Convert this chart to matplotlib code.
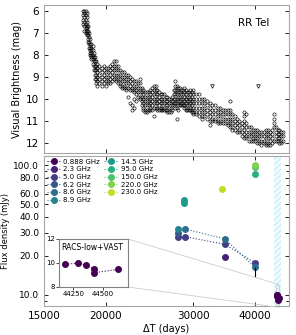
import matplotlib
matplotlib.use('Agg')
import matplotlib.pyplot as plt
import numpy as np
from matplotlib.ticker import FixedLocator, NullLocator, FuncFormatter, LogLocator
from mpl_toolkits.axes_grid1.inset_locator import mark_inset

# visual light curve, read column by column (days, magnitudes)
vis_days = [18000, 18100, 18200, 18300, 18400, 18500, 18600, 18700, 18800, 18900,
            19000, 19100, 19200, 19400, 19600, 19800, 20000, 20200, 20400, 20600,
            20800, 21000, 21200, 21400, 21600, 21800, 22000, 22200, 22400, 22600,
            22800, 23000, 23200, 23400, 23600, 23800, 24000, 24200, 24400, 24600,
            24800, 25000, 25200, 25400, 25600, 25800, 26000, 26200, 26400, 26600,
            26800, 27000, 27200, 27400, 27600, 27800, 28000, 28200, 28400, 28600,
            28800, 29000, 29200, 29400, 29600, 29800, 30000, 30400, 30800, 31200,
            31600, 32000, 32400, 32800, 33200, 33600, 34000, 34400, 34800, 35200,
            35600, 36000, 36400, 36800, 37200, 37600, 38000, 38400, 38800, 39200,
            39600, 40000, 40400, 40800, 41200, 41600, 42000, 42400, 42800, 43200,
            43600, 44000, 44400, 44800, 45200, 45600]
vis_mags = [
    [6.0, 6.2, 6.4, 6.6], [6.0, 6.1, 6.3, 6.5, 6.7, 6.9],
    [6.0, 6.2, 6.4, 6.6, 6.7, 6.8, 6.9, 7.0], [6.1, 6.3, 6.5, 6.7, 6.8, 6.9, 7.0, 7.1],
    [6.7, 6.9, 7.1, 7.3, 7.4], [7.0, 7.2, 7.4, 7.5, 7.7],
    [7.3, 7.5, 7.7, 7.8, 7.9, 8.0], [7.5, 7.7, 7.8, 7.9, 8.0, 8.1, 8.2],
    [7.6, 7.8, 8.0, 8.1, 8.2, 8.4], [7.9, 8.1, 8.3, 8.5, 8.7],
    [8.1, 8.3, 8.5, 8.7, 8.9, 9.1], [8.3, 8.5, 8.7, 8.9, 9.1, 9.3],
    [8.4, 8.6, 8.8, 9.0, 9.2, 9.4], [8.5, 8.7, 8.9, 9.1, 9.3],
    [8.6, 8.8, 9.0, 9.2, 9.4], [8.5, 8.7, 8.9, 9.1, 9.3],
    [8.6, 8.8, 9.0, 9.2, 9.4], [8.6, 8.8, 9.0, 9.2, 9.3],
    [8.5, 8.7, 8.9, 9.1, 9.3], [8.4, 8.6, 8.8, 9.0, 9.2],
    [8.3, 8.5, 8.7, 8.9, 9.1], [8.3, 8.5, 8.7, 8.9, 9.1, 9.2],
    [8.5, 8.7, 8.9, 9.1, 9.3], [8.7, 8.9, 9.1, 9.3, 9.4],
    [8.8, 9.0, 9.2, 9.4, 9.5], [8.8, 9.0, 9.2, 9.4, 9.5],
    [8.9, 9.1, 9.3, 9.5, 9.6], [8.9, 9.1, 9.3, 9.5, 9.9],
    [9.0, 9.2, 9.4, 9.6, 10.2], [9.1, 9.3, 9.5, 9.6, 10.3, 10.5],
    [9.2, 9.4, 9.6, 9.7, 10.0, 10.4], [9.2, 9.4, 9.6, 9.8, 10.1],
    [9.3, 9.5, 9.7, 9.9], [9.1, 9.3, 9.5, 9.7, 9.9, 10.0],
    [9.5, 9.7, 9.9, 10.1, 10.3], [9.6, 9.8, 10.0, 10.2, 10.4, 10.5],
    [9.7, 9.9, 10.1, 10.3, 10.5, 10.6], [9.7, 9.9, 10.1, 10.3, 10.5, 10.6],
    [9.7, 9.9, 10.1, 10.3, 10.5], [9.6, 9.8, 10.0, 10.2, 10.4, 10.5],
    [9.5, 9.7, 9.9, 10.1, 10.3, 10.5], [9.4, 9.6, 9.8, 10.0, 10.2, 10.4, 10.8],
    [9.4, 9.6, 9.8, 10.0, 10.2, 10.4], [9.6, 9.8, 10.0, 10.2, 10.4, 10.5],
    [9.7, 9.9, 10.1, 10.3, 10.5], [9.8, 10.0, 10.2, 10.4, 10.5],
    [9.8, 10.0, 10.2, 10.4, 10.5], [9.8, 10.0, 10.2, 10.4, 10.5],
    [9.9, 10.1, 10.3, 10.5], [9.9, 10.1, 10.3, 10.5, 10.6],
    [10.0, 10.2, 10.4, 10.6], [10.0, 10.2, 10.4, 10.6],
    [9.9, 10.1, 10.3, 10.5], [9.6, 9.8, 10.0, 10.2, 10.3],
    [9.2, 9.4, 9.6, 9.8, 10.0, 10.2, 10.4], [9.4, 9.6, 9.8, 10.0, 10.2, 10.4, 10.9],
    [9.5, 9.7, 9.9, 10.1, 10.3, 10.5], [9.5, 9.7, 9.9, 10.1, 10.3],
    [9.6, 9.8, 10.0, 10.2, 10.3], [9.6, 9.8, 10.0, 10.2, 10.3],
    [9.5, 9.7, 9.9, 10.1, 10.3, 10.4], [9.6, 9.8, 10.0, 10.2, 10.4, 10.5],
    [9.7, 9.9, 10.1, 10.3, 10.5], [9.7, 9.9, 10.1, 10.3, 10.5],
    [9.6, 9.8, 10.0, 10.2, 10.4, 10.5], [9.7, 9.9, 10.1, 10.3, 10.5, 10.6],
    [9.6, 9.8, 10.0, 10.2, 10.4, 10.6, 10.7], [9.8, 10.0, 10.2, 10.4, 10.6, 10.7],
    [9.8, 10.0, 10.2, 10.4, 10.6, 10.8], [10.0, 10.2, 10.4, 10.6, 10.8, 10.9],
    [10.0, 10.2, 10.4, 10.6, 10.8], [10.1, 10.3, 10.5, 10.7, 10.9],
    [10.2, 10.4, 10.6, 10.8, 11.0, 11.2], [10.3, 10.5, 10.7, 10.9, 11.0],
    [10.3, 10.5, 10.7, 10.9, 11.0], [10.4, 10.6, 10.8, 11.0, 11.1],
    [10.4, 10.6, 10.8, 11.0, 11.1], [10.5, 10.7, 10.9, 11.1],
    [10.5, 10.7, 10.9, 11.1], [10.5, 10.7, 10.9, 11.1, 11.2],
    [10.1, 10.5, 10.7, 10.9, 11.1, 11.3], [10.7, 10.9, 11.1, 11.3, 11.4],
    [10.8, 11.0, 11.2, 11.4], [10.9, 11.1, 11.3, 11.5],
    [11.0, 11.2, 11.4, 11.5], [11.1, 11.3, 11.5, 11.7],
    [10.6, 10.8, 11.0, 11.2, 11.4, 11.6, 11.8], [10.7, 11.1, 11.3, 11.5, 11.7, 11.8],
    [11.3, 11.5, 11.7, 11.9], [11.3, 11.5, 11.7, 11.9],
    [11.4, 11.6, 11.8, 11.9], [11.4, 11.6, 11.8, 11.9],
    [11.4, 11.6, 11.8, 12.0], [11.5, 11.7, 11.9, 12.0],
    [11.5, 11.7, 11.9, 12.1], [11.5, 11.7, 11.9, 12.0],
    [11.4, 11.6, 11.8, 12.0, 12.1], [11.4, 11.6, 11.8, 12.0, 12.1],
    [11.5, 11.7, 11.9, 12.1], [11.4, 11.6, 11.8, 12.0],
    [10.7, 10.9, 11.1, 11.3, 11.9], [11.3, 11.5, 11.7, 11.9],
    [11.4, 11.6, 11.8, 11.9], [11.4, 11.6, 11.8, 12.0],
    [11.5, 11.7, 11.9, 12.0], [11.5, 11.7, 11.9]]

# upper limits
lim_days = [32760, 40560]
lim_mags = [9.42, 9.42]

# radio flux densities (mJy) per frequency
freqs = ['0.888', '2.3', '5.0', '6.2', '8.6', '8.9', '14.5', '95.0', '150.0', '220.0', '230.0']
flux_days = [
    [44183, 44294, 44356, 44428, 44428, 44625],
    [34750],
    [27980, 28860, 34750, 39930],
    [27980],
    [28860, 34750, 39930],
    [27980],
    [28700, 28700],
    [39930],
    [39930],
    [39930],
    [34320]]
flux_vals = [
    [9.89, 10.0, 9.83, 9.47, 9.19, 9.47],
    [19.6],
    [28.1, 28.1, 24.5, 17.7],
    [30.1],
    [32.2, 27.0, 16.3],
    [32.2],
    [53.8, 50.7],
    [86.0],
    [96.0],
    [101.0],
    [65.0]]

colors = plt.cm.viridis(np.linspace(0, 0.9, len(freqs)))

fig = plt.figure(figsize=(2.96, 3.35), dpi=100)
ax1 = fig.add_axes([0.1486, 0.5424, 0.8274, 0.4426])
ax2 = fig.add_axes([0.1486, 0.0866, 0.8274, 0.4484], sharex=ax1)

xs = []
ys = []
for d, ms in zip(vis_days, vis_mags):
    for m in ms:
        xs.append(d)
        ys.append(m)
ax1.plot(xs, ys, 'o', mfc='none', mec='k', ms=2.3, mew=0.45)
ax1.plot(lim_days, lim_mags, 'v', mfc='none', mec='k', ms=2.6, mew=0.5)
ax1.set_xscale('log')
ax1.set_ylim(12.48, 5.74)
ax1.set_yticks([6, 7, 8, 9, 10, 11, 12])
ax1.set_ylabel('Visual Brightness (mag)', fontsize=7, labelpad=3)
ax1.text(0.92, 0.88, 'RR Tel', transform=ax1.transAxes, ha='right', va='center', fontsize=7.5)
ax1.tick_params(labelbottom=False, labelsize=7.5)

ax2.axvspan(43650, 45050, facecolor='#f3fcfd', edgecolor='#c4eff5', hatch='//////', lw=0)
for i in range(len(freqs)):
    ax2.plot(flux_days[i], flux_vals[i], ls=':', marker='o', color=colors[i], ms=4, lw=0.8,
             label=freqs[i] + ' GHz')
ax2.errorbar([39930], [16.3], yerr=[[2.5], [0.0]], fmt='none', ecolor='k', lw=0.8)

ax2.set_yscale('log')
ax2.set_ylim(8.2, 118)
ax2.yaxis.set_major_locator(FixedLocator([10, 20, 30, 40, 50, 60, 80, 100]))
ax2.yaxis.set_major_formatter(FuncFormatter(lambda v, p: '%.1f' % v))
ax2.yaxis.set_minor_locator(LogLocator(subs=np.arange(1, 10)))
ax2.yaxis.set_minor_formatter(plt.NullFormatter())
ax2.set_xlim(15000, 46800)
ax2.xaxis.set_major_locator(FixedLocator([15000, 20000, 30000, 40000]))
ax2.xaxis.set_major_formatter(FuncFormatter(lambda v, p: '%d' % v))
ax2.xaxis.set_minor_locator(NullLocator())
ax2.set_xlabel('ΔT (days)', fontsize=7, labelpad=2)
ax2.set_ylabel('Flux density (mJy)', fontsize=6, labelpad=2)
ax2.tick_params(axis='y', labelsize=6.5)
ax2.tick_params(axis='x', labelsize=7.5)

ax2.legend(ncol=2, loc='upper left', fontsize=5, frameon=False, handlelength=2,
           columnspacing=0.6, labelspacing=0.25, handletextpad=0.4,
           borderaxespad=0.2, borderpad=0.2)

for ax in [ax1, ax2]:
    ax.tick_params(which='both', direction='in', top=True, right=True, length=3, width=0.6)
    ax.tick_params(which='minor', length=2)
    for s in ax.spines.values():
        s.set_edgecolor('0.65')
        s.set_linewidth(0.8)

# inset with the RACS-low + VAST points
axins = fig.add_axes([0.1993, 0.1433, 0.233, 0.1433])
axins.plot(flux_days[0], flux_vals[0], ls=':', marker='o', color=colors[0], ms=4, lw=0.8)
axins.set_xlim(44130, 44710)
axins.set_ylim(8, 12)
axins.set_xticks([44250, 44500])
axins.set_yticks([8, 10, 12])
axins.tick_params(labelsize=5, length=2, width=0.5, direction='out', pad=1)
axins.text(0.03, 0.78, 'RACS-low+VAST', transform=axins.transAxes, fontsize=5.5)
for s in axins.spines.values():
    s.set_edgecolor('0.5')
    s.set_linewidth(0.8)
mark_inset(ax2, axins, loc1=1, loc2=4, fc='none', ec='0.8', lw=0.6)

fig.savefig('out.png', dpi=100)
